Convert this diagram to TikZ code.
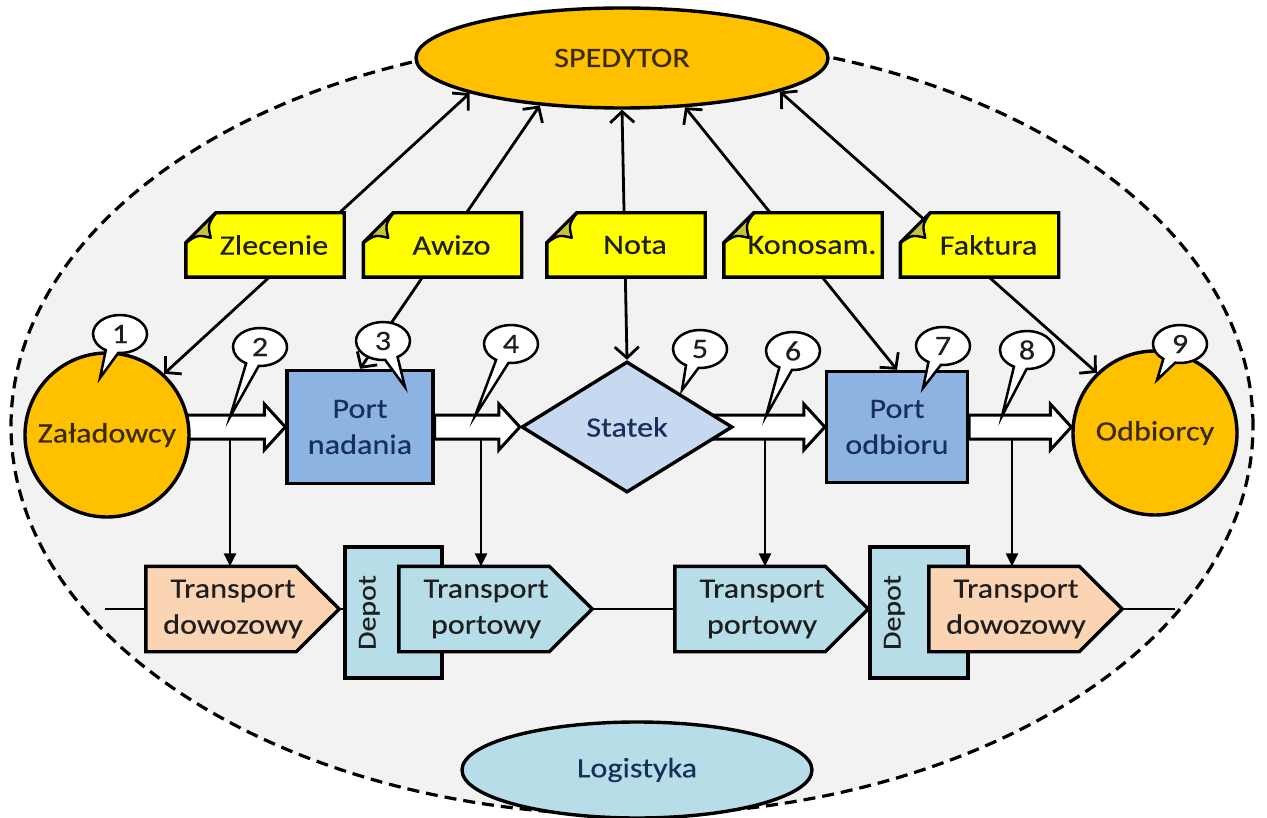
\documentclass[tikz,border=0pt]{standalone}
\usepackage{fontspec}
\setmainfont{Carlito}[FakeStretch=1.15,FakeBold=0.4]
\usetikzlibrary{shapes.geometric,shapes.callouts,arrows.meta,calc}
\pgfdeclarelayer{back}\pgfdeclarelayer{mid}\pgfsetlayers{back,mid,main}
\definecolor{gold}{HTML}{FFC000}
\definecolor{portblue}{HTML}{8DB3E2}
\definecolor{shipblue}{HTML}{C6D9F1}
\definecolor{peach}{HTML}{FBD4B4}
\definecolor{lblue}{HTML}{B7DEE8}
\definecolor{noteyellow}{HTML}{FFFF00}
\definecolor{foldolive}{HTML}{C4C43C}
\definecolor{worldgray}{HTML}{F2F2F2}
\definecolor{browntext}{HTML}{3A2A00}
\definecolor{navytext}{HTML}{17305A}
\definecolor{darktext}{HTML}{1E1E1E}
\newcommand\lbl{\fontsize{28}{36}\selectfont}
\newcommand\smlbl{\fontsize{26}{30}\selectfont}
\newcommand\hollowarrow[2]{%
  \draw[hollow] ($(#1)+(0,-12)$) -- ($(#2)+(-21,-12)$) -- ($(#2)+(-21,-23)$) -- (#2)
    -- ($(#2)+(-21,23)$) -- ($(#2)+(-21,12)$) -- ($(#1)+(0,12)$) -- cycle;}
\newcommand\tbox[5]{%
  \node[tbody] (#1) at (#2,#3) {};
  \draw[bord, fill=#4] (#1.south west) -- (#1.south east) -- ($(#1.east)+(43,0)$)
    -- (#1.north east) -- (#1.north west) -- cycle;
  \node[ttext] (#1t) at ($(#1.center)+(12,0)$) {#5};}
\newcommand\notebox[4]{%
  \node[nbody] (#1) at (#2,#3) {};
  \draw[bord, fill=noteyellow] (#1.south west) -- (#1.south east) -- (#1.north east)
    -- ($(#1.north west)+(30,0)$) -- ($(#1.north west)+(0,30)$) -- cycle;
  \draw[line width=2.4pt, fill=foldolive, line join=round] ($(#1.north west)+(30,0)$)
    .. controls ($(#1.north west)+(22,12)$) .. ($(#1.north west)+(25,25)$)
    .. controls ($(#1.north west)+(12,22)$) .. ($(#1.north west)+(0,30)$) -- cycle;
  \node[ntext] (#1t) at ($(#1.center)+(9,0)$) {#4};}
\begin{document}
\begin{tikzpicture}[x=1pt,y=-1pt,
  bord/.style={draw=black, line width=3.4pt},
  world/.style={ellipse, draw=black, line width=3.2pt, dash pattern=on 12pt off 7pt,
    fill=worldgray, minimum width=1242pt, minimum height=778pt, inner sep=0pt},
  goldcirc/.style={bord, circle, fill=gold, minimum size=164pt, inner sep=0pt,
    text=browntext, font=\lbl},
  port/.style={bord, rectangle, fill=portblue, minimum width=146pt, minimum height=113pt,
    inner sep=0pt, align=center, text=navytext, font=\lbl},
  ship/.style={bord, diamond, fill=shipblue, minimum width=211pt, minimum height=131pt,
    inner sep=0pt, text=navytext, font=\lbl},
  spedstyle/.style={bord, ellipse, fill=gold, minimum width=412pt, minimum height=100pt,
    inner sep=0pt, text=browntext, font=\lbl},
  logistyle/.style={bord, ellipse, fill=lblue, minimum width=350pt, minimum height=96pt,
    inner sep=0pt, text=navytext, font=\lbl},
  hollow/.style={draw=black, line width=3pt, fill=white, line join=miter},
  conn/.style={line width=2.8pt,
    {Straight Barb[length=11pt,width=24pt]}-{Straight Barb[length=11pt,width=24pt]}},
  drop/.style={line width=2.4pt, -{Triangle[length=13pt,width=12pt]}},
  thin/.style={line width=1.4pt},
  tbody/.style={rectangle, minimum width=150pt, minimum height=85pt, inner sep=0pt},
  ttext/.style={align=center, text=darktext, font=\lbl},
  depot/.style={bord, rectangle, fill=lblue, minimum width=97pt, minimum height=131pt, inner sep=0pt},
  depottext/.style={rotate=90, text=darktext, font=\smlbl},
  nbody/.style={rectangle, minimum width=158pt, minimum height=64pt, inner sep=0pt},
  ntext/.style={text=darktext, font=\lbl},
  callnum/.style={ellipse callout, draw=black, line width=2.5pt, fill=white,
    minimum width=54pt, minimum height=38pt, inner sep=0pt, callout pointer arc=28,
    text=darktext, font=\lbl}
]
\useasboundingbox (0,0) rectangle (1267,818);
\begin{pgfonlayer}{back}
  \node[world] (world) at (632,426) {};
\end{pgfonlayer}

% main nodes
\node[spedstyle] (sped) at (622,58) {SPEDYTOR};
\node[goldcirc] (zal) at (107,435) {Załadowcy};
\node[goldcirc] (od) at (1155,433) {Odbiorcy};
\node[port] (pn) at (360,427) {Port\\nadania};
\node[port, minimum width=141pt, minimum height=111pt] (po) at (897,427) {Port\\odbioru};
\node[ship] (statek) at (627,427) {Statek};
\node[logistyle] (logi) at (637,770) {Logistyka};

% coordinates
\coordinate (a1s) at (zal.center |- pn.west);
\coordinate (a4e) at (od.west |- po.west);
\coordinate (d1) at (230,439);
\coordinate (d2) at (481,439);
\coordinate (d3) at (765,439);
\coordinate (d4) at (1012,439);
\coordinate (lineL) at (105,609);
\coordinate (lineR) at (1175,609);

\begin{pgfonlayer}{mid}
  % connectors to SPEDYTOR
  \draw[conn] (zal.47) -- (sped.193);
  \draw[conn] (pn.north) -- (sped.210);
  \draw[conn] (statek.north) -- (sped.south);
  \draw[conn] (po.north) -- (sped.322);
  \draw[conn] (od.134.5) -- (sped.348);
  % hollow flow arrows
  \hollowarrow{a1s}{pn.west}
  \hollowarrow{pn.east}{statek.west}
  \hollowarrow{statek.center}{po.west}
  \hollowarrow{po.east}{a4e}
  % thin line
  \draw[thin] (lineL) -- (lineR);
\end{pgfonlayer}

% notes
\notebox{n1}{265}{245}{Zlecenie}
\notebox{n2}{442.5}{245}{Awizo}
\notebox{n3}{626}{245}{Nota}
\notebox{n4}{803}{245}{Konosam.}
\notebox{n5}{979.5}{245}{Faktura}

% transport row
\tbox{td1}{221}{609}{peach}{Transport\\dowozowy}
\node[depot] (dep1) at (393.5,612.5) {};
\node[depottext] (dep1t) at ($(dep1.west)+(26,0)$) {Depot};
\tbox{tp1}{474}{609}{lblue}{Transport\\portowy}
\tbox{tp2}{750}{609}{lblue}{Transport\\portowy}
\node[depot, minimum width=98pt] (dep2) at (919,612.5) {};
\node[depottext] (dep2t) at ($(dep2.west)+(26,0)$) {Depot};
\tbox{td2}{1004}{609}{peach}{Transport\\dowozowy}

% drop arrows
\draw[drop] (d1) -- (d1 |- td1.north);
\draw[drop] (d2) -- (d2 |- tp1.north);
\draw[drop] (d3) -- (d3 |- tp2.north);
\draw[drop] (d4) -- (d4 |- td2.north);

% callouts
\node[callnum, callout absolute pointer={(100,378)}] (c1) at (120,334) {1};
\node[callnum, callout absolute pointer={(230,417)}] (c2) at (260,347) {2};
\node[callnum, callout absolute pointer={(405,387)}] (c3) at (383,341) {3};
\node[callnum, callout absolute pointer={(475,416)}] (c4) at (511,344) {4};
\node[callnum, callout absolute pointer={(682,390)}] (c5) at (700,349) {5};
\node[callnum, callout absolute pointer={(766,416)}] (c6) at (793,351) {6};
\node[callnum, callout absolute pointer={(923,388)}] (c7) at (943,346) {7};
\node[callnum, callout absolute pointer={(1002,416)}] (c8) at (1027,350) {8};
\node[callnum, callout absolute pointer={(1157,380)}] (c9) at (1180,344) {9};
\end{tikzpicture}
\end{document}
